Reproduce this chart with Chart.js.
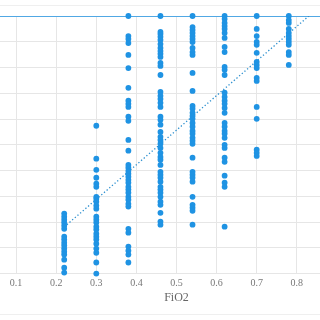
<!DOCTYPE html>
<html>
<head>
<meta charset="utf-8">
<script src="https://cdn.jsdelivr.net/npm/chart.js@4.4.1/dist/chart.umd.min.js"></script>
<style>
  html, body { margin: 0; padding: 0; background: #fff; }
  body { width: 320px; height: 320px; position: relative; overflow: hidden; }
  #wrap { position: absolute; left: -29px; top: 0; }
  .rule { position: absolute; left: 0; width: 320px; height: 1px; background: #efefef; }
</style>
</head>
<body>
<div class="rule" style="top:5px"></div>
<div id="wrap"><canvas id="chart" width="411" height="313"></canvas></div>
<div class="rule" style="top:314px"></div>
<script>
// FiO2 levels (x) and the measured values in each column (y)
const fio2Levels = [0.22, 0.30, 0.38, 0.46, 0.54, 0.62, 0.70, 0.78];
const col022 = [23.3, 22.1, 20.9, 19.8, 18.6, 17.4, 14.3, 13.2, 12.0, 10.9, 9.7, 8.5, 7.4, 5.4, 2.3, 0.4];
const col030 = [57.4, 44.6, 40.3, 37.2, 34.9, 33.7, 29.8, 29.1, 27.9, 26.4, 25.2, 22.1, 20.9, 19.8, 18.2, 17.1, 15.5, 14.3, 13.2, 11.6, 9.7, 8.1, 4.3, 0];
const col038 = [100, 92.2, 91.1, 89.5, 84.9, 79.8, 72.1, 67.1, 65.9, 64.7, 60.9, 59.3, 51.9, 47.7, 42.2, 41.1, 39.9, 38.8, 37.6, 36.4, 35.3, 33.7, 32.6, 31.4, 29.8, 28.7, 27.1, 26.0, 17.4, 15.9, 10.5, 8.9, 7.4, 4.3];
const col046 = [100, 93.8, 93.0, 91.9, 90.7, 89.1, 87.6, 86.4, 85.3, 84.1, 81.8, 80.6, 77.1, 70.5, 69.0, 67.8, 66.3, 64.7, 60.9, 59.7, 57.8, 55.0, 53.1, 51.9, 50.4, 48.8, 46.9, 45.3, 44.2, 42.2, 39.5, 38.4, 37.2, 35.7, 33.7, 32.6, 31.4, 29.8, 27.9, 26.7, 23.6, 20.2, 19.0];
const col054 = [100, 95.7, 94.6, 93.4, 92.2, 91.1, 89.9, 87.6, 86.0, 84.9, 77.9, 70.9, 65.1, 64.0, 62.4, 61.2, 60.1, 58.5, 57.0, 55.4, 54.3, 52.7, 51.6, 50.4, 45.0, 39.5, 38.4, 37.2, 35.7, 29.8, 26.7, 25.6, 24.4, 19.0];
const col062 = [100, 98.8, 97.3, 96.1, 95.0, 93.4, 91.5, 88.0, 86.0, 80.2, 79.1, 77.1, 70.2, 68.6, 67.1, 65.9, 64.3, 62.4, 58.5, 57.0, 55.4, 54.3, 52.7, 50.0, 48.8, 45.0, 43.4, 38.0, 35.3, 33.7, 18.2];
const col070 = [100, 95.0, 92.2, 89.9, 88.8, 85.7, 82.2, 81.0, 79.8, 76.0, 74.8, 64.7, 60.1, 48.1, 46.9, 45.7];
const col078 = [100, 98.4, 97.3, 95.0, 93.4, 92.2, 91.1, 89.9, 88.8, 86.0, 84.9, 81.0];
const columns = [col022, col030, col038, col046, col054, col062, col070, col078];

// fitted trend (dotted) and the ceiling line
const trendX = [0.22, 0.83];
const trendY = [18.1, 100];
const ceilingX = [0, 1];
const ceilingY = [100, 100];

const blue = '#1f93e3';

const points = [];
columns.forEach((col, i) => {
  col.forEach(v => points.push({ x: fio2Levels[i], y: v }));
});

const ctx = document.getElementById('chart').getContext('2d');
new Chart(ctx, {
  type: 'scatter',
  data: {
    datasets: [
      {
        label: 'data',
        data: points,
        backgroundColor: blue,
        borderWidth: 0,
        pointRadius: 2.9,
        clip: false,
        order: 0
      },
      {
        type: 'line',
        label: 'trend',
        data: trendX.map((x, i) => ({ x: x, y: trendY[i] })),
        borderColor: '#2b8fcf',
        borderWidth: 1.3,
        borderDash: [1.3, 2.2],
        pointRadius: 0,
        fill: false,
        clip: 0,
        order: 1
      },
      {
        type: 'line',
        label: 'ceiling',
        data: ceilingX.map((x, i) => ({ x: x, y: ceilingY[i] })),
        borderColor: blue,
        borderWidth: 1.3,
        pointRadius: 0,
        fill: false,
        clip: 0,
        order: 2
      }
    ]
  },
  options: {
    responsive: false,
    animation: false,
    layout: { padding: { top: 16, bottom: 6, left: 0, right: 0 } },
    plugins: { legend: { display: false }, tooltip: { enabled: false } },
    scales: {
      x: {
        type: 'linear',
        min: 0,
        max: 1,
        grid: { color: '#e6e6e6', drawTicks: false },
        border: { display: false },
        ticks: {
          stepSize: 0.1,
          padding: 5,
          color: '#777',
          font: { family: 'Liberation Serif', size: 10, lineHeight: 1 },
          callback: v => (v > 0.05 && v < 0.85) ? v.toFixed(1) : ''
        },
        title: {
          display: true,
          text: 'FiO2',
          color: '#666',
          font: { family: 'Liberation Serif', size: 12 },
          padding: { top: -3, bottom: 2 }
        }
      },
      y: {
        min: 0,
        max: 100,
        grid: { color: '#e6e6e6', drawTicks: false },
        border: { display: false },
        ticks: { stepSize: 10, display: false }
      }
    }
  }
});
</script>
</body>
</html>
